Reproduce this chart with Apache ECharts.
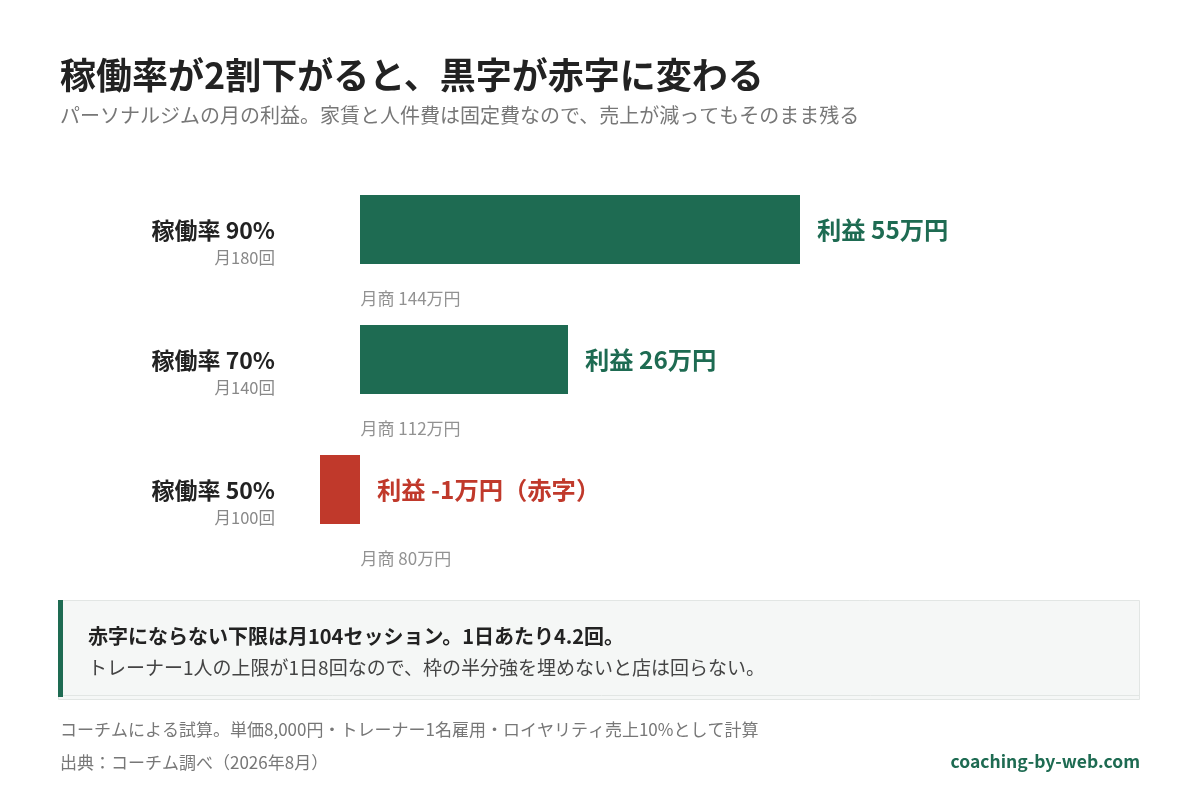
<!DOCTYPE html>
<html>
<head>
<meta charset="utf-8">
<script src="https://cdn.jsdelivr.net/npm/echarts@6/dist/echarts.min.js"></script>
<style>
  html, body { margin: 0; padding: 0; background: #fff; }
  #chart { width: 1200px; height: 800px; }
</style>
</head>
<body>
<div id="chart"></div>
<script>
'use strict';

// data
var rates = ['稼働率 90%', '稼働率 70%', '稼働率 50%'];
var sessions = [180, 140, 100];   // 月の回数
var sales = [144, 112, 80];       // 月商（万円）
var profit = [55, 26, -1];        // 利益（万円）

var GREEN = '#1e6b52';
var RED = '#c0392b';
var FONT = '"Noto Sans CJK JP", "Noto Sans", sans-serif';

var barData = profit.map(function (v) {
    var c = v < 0 ? RED : GREEN;
    return { value: v, itemStyle: { color: c }, label: { color: c } };
});

var salesData = sales.map(function (s, i) {
    return { value: [0, rates[i]], sales: s };
});

var option = {
    animation: false,
    backgroundColor: '#fff',
    textStyle: { fontFamily: FONT },
    grid: {
        left: 320,
        right: 240,
        top: 164.5,
        height: 390,
        containLabel: false,
        outerBoundsMode: 'none'
    },
    xAxis: {
        type: 'value',
        min: -5,
        max: 75,
        show: false
    },
    yAxis: {
        type: 'category',
        data: rates,
        inverse: true,
        axisLine: { show: false },
        axisTick: { show: false },
        splitLine: { show: false },
        axisLabel: {
            margin: 45,
            align: 'right',
            padding: [29, 0, 0, 0],
            formatter: function (val, idx) {
                return '{a|' + val + '}\n{b|月' + sessions[idx] + '回}';
            },
            rich: {
                a: { fontFamily: FONT, fontSize: 23, fontWeight: 'bold', color: '#222', lineHeight: 28, align: 'right' },
                b: { fontFamily: FONT, fontSize: 16.5, color: '#888', lineHeight: 28, align: 'right' }
            }
        }
    },
    series: [
        {
            type: 'bar',
            data: barData,
            barWidth: 69,
            barMinHeight: 40,
            label: {
                show: true,
                position: 'right',
                distance: 17,
                fontFamily: FONT,
                fontSize: 24.3,
                fontWeight: 'bold',
                formatter: function (p) {
                    var v = p.value;
                    return '利益 ' + v + '万円' + (v < 0 ? '（赤字）' : '');
                }
            }
        },
        {
            type: 'scatter',
            data: salesData,
            symbolSize: 1,
            itemStyle: { color: 'rgba(0,0,0,0)' },
            silent: true,
            label: {
                show: true,
                position: 'right',
                distance: 0,
                offset: [0, 69],
                fontFamily: FONT,
                fontSize: 17,
                color: '#777',
                formatter: function (p) {
                    return '月商 ' + p.data.sales + '万円';
                }
            }
        }
    ],
    graphic: [
        {
            type: 'text', left: 60, top: 57,
            style: { text: '稼働率が2割下がると、黒字が赤字に変わる', font: 'bold 36px ' + FONT, fill: '#222' }
        },
        {
            type: 'text', left: 60, top: 105,
            style: { text: 'パーソナルジムの月の利益。家賃と人件費は固定費なので、売上が減ってもそのまま残る', font: '20px ' + FONT, fill: '#777' }
        },
        {
            type: 'rect',
            shape: { x: 58.5, y: 600.5, width: 1081, height: 99 },
            style: { fill: '#f5f7f6', stroke: '#e2e6e4', lineWidth: 1 }
        },
        {
            type: 'line',
            shape: { x1: 63, y1: 695.5, x2: 1140, y2: 695.5 },
            style: { stroke: '#e2e6e4', lineWidth: 1 }
        },
        {
            type: 'rect',
            shape: { x: 58, y: 600, width: 5, height: 97 },
            style: { fill: GREEN }
        },
        {
            type: 'text', left: 88, top: 626,
            style: { text: '赤字にならない下限は月104セッション。1日あたり4.2回。', font: 'bold 20px ' + FONT, fill: '#222' }
        },
        {
            type: 'text', left: 88, top: 658,
            style: { text: 'トレーナー1人の上限が1日8回なので、枠の半分強を埋めないと店は回らない。', font: '19px ' + FONT, fill: '#444' }
        },
        {
            type: 'text', left: 60, top: 721,
            style: { text: 'コーチムによる試算。単価8,000円・トレーナー1名雇用・ロイヤリティ売上10%として計算', font: '17px ' + FONT, fill: '#777' }
        },
        {
            type: 'text', left: 60, top: 754,
            style: { text: '出典：コーチム調べ（2026年8月）', font: '17px ' + FONT, fill: '#777' }
        },
        {
            type: 'text', right: 60, top: 753,
            style: { text: 'coaching-by-web.com', font: 'bold 17.5px ' + FONT, fill: GREEN }
        }
    ]
};

var myChart = echarts.init(document.getElementById('chart'));
myChart.setOption(option);
</script>
</body>
</html>
